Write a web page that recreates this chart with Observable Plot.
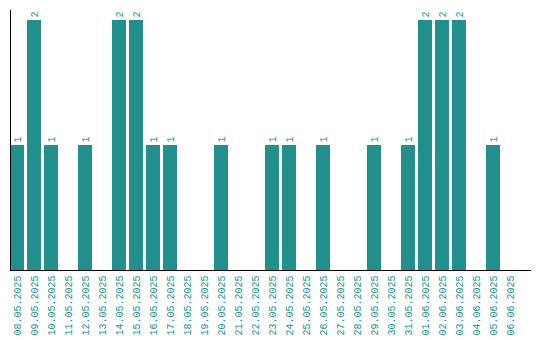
<!DOCTYPE html>
<html><head><meta charset="utf-8">
<script src="https://cdn.jsdelivr.net/npm/d3@7"></script>
<script src="https://cdn.jsdelivr.net/npm/@observablehq/plot@0.6"></script>
<style>body{margin:0;background:#fff}</style>
</head><body><div id="chart"></div>
<script>
const dates = ["08.05.2025","09.05.2025","10.05.2025","11.05.2025","12.05.2025","13.05.2025","14.05.2025","15.05.2025","16.05.2025","17.05.2025","18.05.2025","19.05.2025","20.05.2025","21.05.2025","22.05.2025","23.05.2025","24.05.2025","25.05.2025","26.05.2025","27.05.2025","28.05.2025","29.05.2025","30.05.2025","31.05.2025","01.06.2025","02.06.2025","03.06.2025","04.06.2025","05.06.2025","06.06.2025"];
const counts = [1,2,1,0,1,0,2,2,1,1,0,0,1,0,0,1,1,0,1,0,0,1,0,1,2,2,2,0,1,0];
const data = dates.map((d,i)=>({date:d, value:counts[i]}));
const teal = "#21908c";
const font = "Liberation Mono";
const chart = Plot.plot({
  width: 540, height: 340,
  marginLeft: 10, marginRight: 10, marginTop: 10, marginBottom: 70,
  style: {fontFamily: font, fontSize: "10px", background: "#fff"},
  x: {domain: dates, range: [10, 517], paddingInner: 3/17, paddingOuter: 0, axis: null},
  y: {domain: [0, 2.08], axis: null},
  marks: [
    Plot.barY(data, {x: "date", y: "value", fill: teal}),
    Plot.text(data.filter(d=>d.value>0), {x: "date", y: "value", text: d=>String(d.value), rotate: -90, textAnchor: "start", dy: -3, fill: teal, fontFamily: font, fontSize: 10}),
    Plot.axisX({tickSize: 0, tickPadding: 5, tickRotate: -90, fill: teal, fontFamily: font, fontSize: 10, label: null}),
    Plot.frame({anchor: "left", stroke: "#000"}),
    Plot.frame({anchor: "bottom", stroke: "#000"})
  ]
});
document.getElementById("chart").append(chart);
</script></body></html>
